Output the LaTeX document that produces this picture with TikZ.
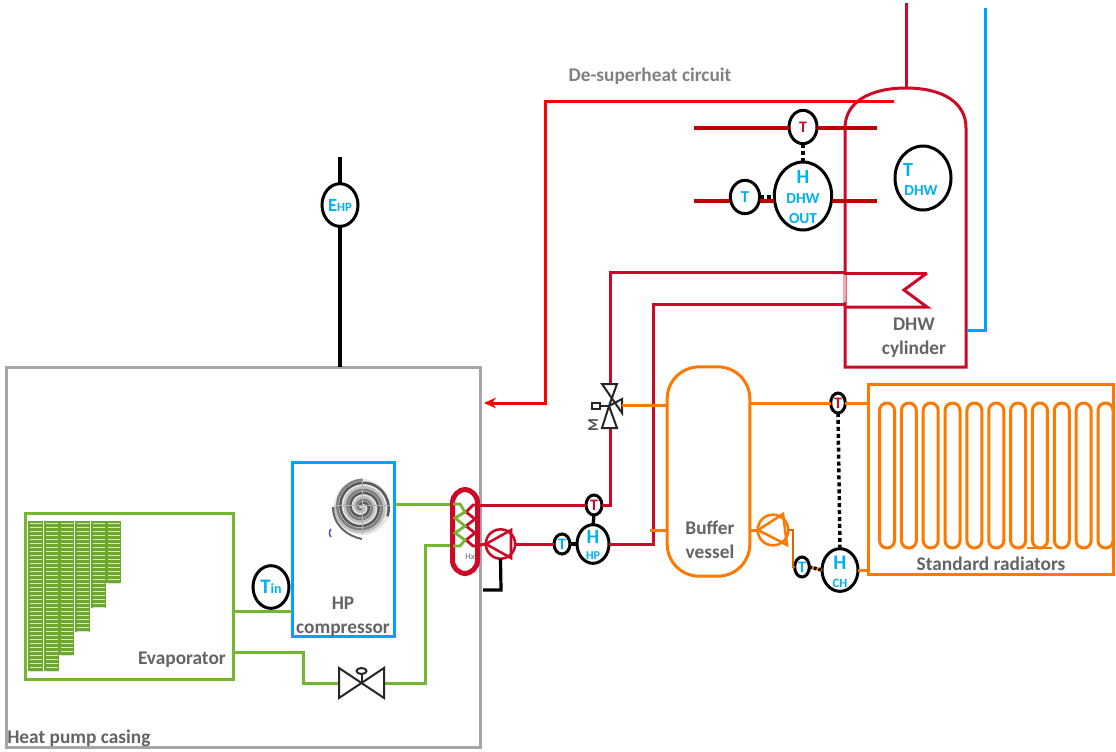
\documentclass[tikz,border=0pt]{standalone}
\usepackage{fontspec}
\setmainfont{Carlito}
\usepackage{xcolor}
\usetikzlibrary{arrows.meta,positioning,calc,shapes.geometric}
\definecolor{hpgreen}{HTML}{76B531}
\definecolor{hporange}{HTML}{FF7800}
\definecolor{hpred}{HTML}{CC0A27}
\definecolor{hpdark}{HTML}{C00000}
\definecolor{hpbright}{HTML}{FF0000}
\definecolor{hpblue}{HTML}{00A2FF}
\definecolor{txtblue}{HTML}{00B0F0}
\definecolor{txtgray}{HTML}{646464}
\definecolor{casegray}{HTML}{A6A6A6}
\begin{document}
\begin{tikzpicture}[
    x=0.75pt, y=-0.75pt,
    box/.style={rectangle, draw, fill=white, line width=2.25pt, inner sep=0pt, outer sep=0pt},
    boxtxt/.style={font=\bfseries\fontsize{14.5}{18}\selectfont, text=txtgray, align=center, inner sep=0pt},
    blue/.style={text=txtblue, inner sep=0pt},
    meter/.style={ellipse, draw=black, fill=white, line width=2.25pt, inner sep=0pt, outer sep=0pt, align=center, text=txtblue, font=\bfseries},
    smallmeter/.style={meter, minimum width=12pt, minimum height=15pt, font=\bfseries\fontsize{12}{12}\selectfont},
    bigmeter/.style={meter, minimum width=27pt, minimum height=32pt},
    pump/.style={circle, draw, fill=white, line width=1.9pt, inner sep=0pt, outer sep=0pt, minimum size=22pt},
    pipe/.style={line width=2.25pt, line join=miter},
    greenpipe/.style={pipe, draw=hpgreen},
    redpipe/.style={pipe, draw=hpred},
    darkpipe/.style={pipe, draw=hpdark, line width=2.7pt},
    orangepipe/.style={pipe, draw=hporange},
    bluepipe/.style={pipe, draw=hpblue},
    wire/.style={line width=2.4pt, draw=black},
    dotwire/.style={line width=2.6pt, draw=black, dash pattern=on 3pt off 2.2pt},
    valve/.style={line width=1.5pt, draw=black!85, fill=white, line join=miter}
]
\useasboundingbox (0,0) rectangle (1116,751);

% Boxes
\node[box, draw=casegray, minimum width=356pt, minimum height=285pt] (casing) at (243.5,557) {};
\node[box, draw=hpgreen, minimum width=156pt, minimum height=125pt] (evap) at (129,596.5) {};
\node[box, draw=hpblue, minimum width=77pt, minimum height=130pt] (comp) at (343.5,549.5) {};
\node[box, draw=hporange, rounded corners=24pt, minimum width=62pt, minimum height=157pt] (buffer) at (708.5,471.5) {};
\node[box, draw=hporange, minimum width=184pt, minimum height=143pt] (rad) at (991,479.5) {};

% Evaporator fins
\foreach \finx/\finy in {28/671,44/671,59/655,75/632,91/608,106/583} {
  \fill[hpgreen!92!black] (\finx,521) rectangle ({\finx+15},\finy);
  \foreach \finr in {523,527,...,\finy}
    \draw[hpgreen!30, line width=0.6pt] ({\finx+1.5},\finr) -- ({\finx+13.5},\finr);
}

% Compressor scroll
\fill[black!10] (362,507) circle[radius=21pt];
\foreach \rota/\rotc in {0/black!25,90/black!50,200/black!65}
  \draw[\rotc, line width=1.9pt] plot[smooth, domain=0:900, samples=80]
    ({362+(2+\x*0.028)*cos(\x+\rota)},{507+(2+\x*0.028)*sin(\x+\rota)});
\draw[black!30, line width=0.4pt] (334,505) -- (390,505) (362,478) -- (362,534);
\draw[black!60, line width=1.5pt] (333,507) .. controls (333,525) and (347,536) .. (362,539);
\draw[blue!50!gray, line width=1pt] (331,529) .. controls (329,531) and (329,535) .. (331,537);

% Green circuit
\coordinate (evapup) at (233,611);
\coordinate (evaplow) at (233,652);
\coordinate (gleft) at (303,652);
\coordinate (gdown) at (303,683);
\coordinate (vlvl) at (339,683);
\coordinate (vlvr) at (384,683);
\coordinate (gright) at (425,683);
\coordinate (gup) at (425,545);
\coordinate (hxlow) at (453,545);
\coordinate (compout) at (395,504);
\coordinate (hxup) at (453,504);
\draw[greenpipe] (evapup) -- (comp.west |- evapup);
\draw[greenpipe] (evaplow) -- (gleft) -- (gdown) -- (vlvl);
\draw[greenpipe] (vlvr) -- (gright) -- (gup) -- (hxlow);
\draw[greenpipe] (compout) -- (hxup);

% Expansion valve
\draw[valve] (339,668) -- (339,698) -- (384,668) -- (384,698) -- cycle;
\draw[valve] (361.5,683) -- (361.5,673);
\draw[valve] (361.5,671) ellipse[x radius=5, y radius=3];

% Heat exchanger
\node[draw=hpred, line width=3.75pt, rounded corners=10pt, inner sep=0pt, outer sep=0pt, minimum width=18.75pt, minimum height=63pt] (hx) at (465,531.5) {};
\draw[hpred, line width=2.1pt] (480,505) -- (473,505) -- (466,512) -- (475,519) -- (466,526) -- (475,533) -- (466,540) -- (473,546) -- (480,546);
\draw[hpgreen, line width=2.1pt] (453,504) -- (460,504) -- (465,512) -- (455,518) -- (465,526) -- (455,533) -- (465,540) -- (460,546) -- (453,546);
\node[font=\bfseries\fontsize{6.5}{7}\selectfont, text=black!45, inner sep=0pt] (hxtxt) at (470,557) {Hx};

% Primary circuit
\node[pump, draw=hpred] (pumpred) at (500.5,544) {};
\draw[hpred, line width=1.9pt, line join=miter] (486,544) -- (511,530) -- (511,558) -- cycle;
\node[smallmeter] (thpin) at (562,544) {T};
\node[meter, minimum width=24pt, minimum height=29pt] (hhp) at (593,544) {};
\node[smallmeter, text=hpred] (thpout) at (594,505) {T};
\coordinate (hxout) at (480,505);
\coordinate (hxin) at (480,545);
\coordinate (rup) at (610,505);
\coordinate (vtop) at (610,384);
\coordinate (vbot) at (610,428);
\coordinate (rtop) at (610,272);
\coordinate (cyla) at (845,272);
\coordinate (rret) at (653,304);
\coordinate (cylb) at (845,304);
\coordinate (rlow) at (653,544);
\draw[redpipe] (hxout) -- (thpout.west);
\draw[redpipe] (thpout.east) -- (rup) -- (vbot);
\draw[redpipe] (vtop) -- (rtop) -- (cyla);
\draw[redpipe] (cylb) -- (rret) -- (rlow) -- (hhp.east);
\draw[redpipe] (hxin) -- (pumpred.west);
\draw[redpipe] (pumpred.east) -- (thpin.west);
\draw[wire] (thpin.east) -- (hhp.west);
\draw[wire] (thpout.south) -- (hhp.north);
\draw[wire] (pumpred.south) -- (501,590) -- (483,590);
\node[blue, font=\bfseries\fontsize{15}{15}\selectfont] (hhptxt) at (593,537) {H};
\node[blue, font=\bfseries\fontsize{9}{9}\selectfont] (hhpsub) at (593,556) {HP};

% Three way valve
\draw[valve] (602,384) -- (617,384) -- (609,406) -- (602,428) -- (617,428) -- (609,406) -- (622,399) -- (622,413) -- cycle;
\draw[valve] (609,406) -- (600,406);
\node[draw=black!85, line width=1.5pt, fill=white, inner sep=0pt, minimum width=5.5pt, minimum height=4.5pt] (vact) at (596,406) {};
\node[font=\bfseries\fontsize{11}{11}\selectfont, text=black!70, rotate=90, inner sep=0pt] (vm) at (593,425) {M};

% Heating circuit
\coordinate (vright) at (622,405);
\coordinate (bufl) at (650,530);
\coordinate (pumpl) at (750,530);
\coordinate (oright) at (793,530);
\coordinate (odown) at (793,567);
\node[pump, draw=hporange, minimum size=23pt] (pumpor) at (773,530) {};
\draw[hporange, line width=1.9pt, line join=miter] (758,530) -- (783,514) -- (787,545) -- cycle;
\node[smallmeter, minimum width=11pt, minimum height=15pt, text=hpred] (trad) at (838,403) {T};
\node[smallmeter, minimum width=11pt, minimum height=15pt] (tbuf) at (802,567) {T};
\node[bigmeter] (hch) at (840,570) {};
\draw[orangepipe] (vright) -- (buffer.west |- vright);
\draw[orangepipe] (buffer.east |- trad) -- (trad.west);
\draw[orangepipe] (trad.east) -- (rad.west |- trad);
\draw[orangepipe] (bufl) -- (buffer.west |- bufl);
\draw[orangepipe] (pumpl) -- (pumpor.west);
\draw[orangepipe, line width=1.5pt, draw=hporange!85!black] (pumpor.east) -- (oright) -- (odown) -- (tbuf.west);
\draw[orangepipe] (hch.east) -- (rad.west |- hch);
\draw[dotwire] (trad.south) -- (hch.north);
\draw[orangepipe] (tbuf.east) -- (hch.west);
\draw[dotwire, dash pattern=on 2pt off 1.5pt] (tbuf.east) -- (hch.west);
\node[blue, font=\bfseries\fontsize{15.5}{15.5}\selectfont] (hchtxt) at (840,563) {H};
\node[blue, font=\bfseries\fontsize{9.5}{9.5}\selectfont] (hchsub) at (840,583) {CH};

% Radiator
\foreach \pill in {0,...,10}
  \draw[hporange, line width=2.25pt, rounded corners=5.6pt] ({879.5+\pill*21.85},403) rectangle ({894.5+\pill*21.85},548);
\draw[hporange, line width=1.5pt] (1027,548) -- (1052,548);

% DHW cylinder
\coordinate (cylbl) at (845,367);
\coordinate (cylbr) at (966,367);
\draw[redpipe] (cylbr) -- (966,128) .. controls (966,102) and (942,88) .. (906,88) .. controls (870,88) and (845,102) .. (845,128) -- (cylbl) -- cycle;
\draw[hpred!35, line width=1.6pt] (845,275) -- (845,302);
\draw[redpipe] (927,273) -- (904,290) -- (927,307) -- (845,307);
\draw[redpipe] (845,273) -- (927,273);
\coordinate (feedtop) at (906,3);
\coordinate (feedbot) at (906,88);
\draw[redpipe] (feedtop) -- (feedbot);
\coordinate (coldtop) at (985,8);
\coordinate (coldcnr) at (985,330);
\coordinate (coldend) at (967,330);
\draw[bluepipe] (coldtop) -- (coldcnr) -- (coldend);

% De-superheat
\coordinate (dsa) at (894,101);
\coordinate (dsb) at (545,101);
\coordinate (dsc) at (545,403);
\coordinate (dsd) at (484,403);
\draw[pipe, draw=hpbright, -{Stealth[length=9pt,width=8pt]}] (dsa) -- (dsb) -- (dsc) -- (dsd);

% DHW meters
\coordinate (douta) at (694,128);
\coordinate (doutb) at (877,128);
\coordinate (dinl) at (694,201);
\coordinate (dinr) at (877,201);
\node[meter, minimum width=21pt, minimum height=25pt, text=hpred, font=\bfseries\fontsize{12}{12}\selectfont] (tdout) at (803,127) {T};
\node[meter, minimum width=22pt, minimum height=25pt, font=\bfseries\fontsize{12.5}{12.5}\selectfont] (tdin) at (745,197) {T};
\node[meter, minimum width=43pt, minimum height=51pt] (hdhw) at (803,196) {};
\node[meter, minimum width=42pt, minimum height=48pt] (tdhw) at (923,178) {};
\draw[darkpipe] (douta) -- (tdout.west |- douta);
\draw[darkpipe] (tdout.east |- doutb) -- (doutb);
\draw[darkpipe] (dinl) -- (tdin.west |- dinl);
\draw[darkpipe] (tdin.east |- dinl) -- (hdhw.west |- dinl);
\draw[darkpipe] (hdhw.east |- dinr) -- (dinr);
\draw[dotwire] (tdout.south) -- (hdhw.north);
\draw[dotwire] (tdin.east) -- (hdhw.west |- tdin.east);
\node[blue, font=\bfseries\fontsize{15}{15}\selectfont] (hdhwh) at (803,177) {H};
\node[blue, font=\bfseries\fontsize{11.5}{12}\selectfont] (hdhwa) at (803,199) {DHW};
\node[blue, font=\bfseries\fontsize{11.5}{12}\selectfont] (hdhwb) at (803,219) {OUT};
\node[blue, font=\bfseries\fontsize{15}{15}\selectfont] (tdhwt) at (908,170) {T};
\node[blue, font=\bfseries\fontsize{11.5}{12}\selectfont] (tdhwb) at (921,191) {DHW};

% Power and inlet meters
\coordinate (ehptop) at (340,157);
\node[bigmeter, font=\bfseries\fontsize{14}{14}\selectfont] (ehp) at (340,205) {E\fontsize{9.5}{9.5}\selectfont HP};
\draw[wire, line width=2.7pt] (ehptop) -- (ehp.north);
\draw[wire, line width=2.7pt] (ehp.south) -- (casing.north -| ehp);
\node[bigmeter, font=\bfseries\fontsize{15.5}{15.5}\selectfont] (tin) at (271,587) {T\fontsize{10.5}{10.5}\selectfont in};

% Labels
\node[boxtxt, anchor=west] (casetxt) at (7,738) {Heat pump casing};
\node[boxtxt, anchor=east] (evaptxt) at (226,660) {Evaporator};
\node[boxtxt] (comptxt) at (343,617) {HP\\compressor};
\node[boxtxt] (buftxt) at (710,540) {Buffer\\vessel};
\node[boxtxt] (cyltxt) at (914,338) {DHW\\cylinder};
\node[boxtxt] (radtxt) at (991,564) {Standard radiators};
\node[boxtxt, text=black!50] (dstxt) at (650,76) {De-superheat circuit};
\end{tikzpicture}
\end{document}
